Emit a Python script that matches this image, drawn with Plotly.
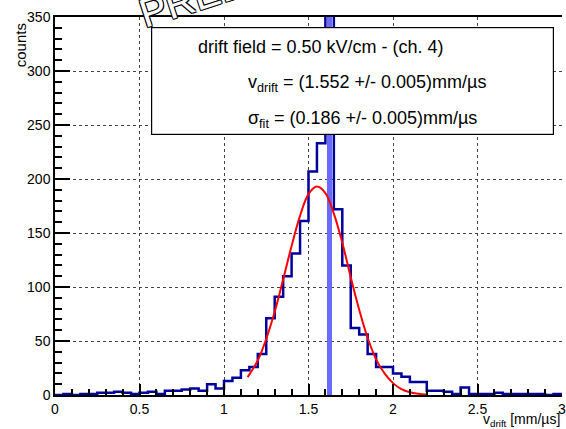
import plotly.graph_objects as go

# ---------------- data ----------------
x_min, x_max = 0.0, 3.0
counts = [0, 1, 0, 1, 1, 2, 2, 3, 2, 1,
          2, 3, 1, 4, 4, 5, 6, 4, 10, 6,
          13, 16, 23, 26, 38, 71, 91, 110, 131, 161,
          207, 233, 520, 172, 120, 62, 56, 38, 26, 26,
          20, 17, 12, 12, 4, 4, 3, 1, 7, 1,
          1, 1, 2, 1, 1, 1, 1, 1, 0, 1]

fit_x = [1.14, 1.20, 1.25, 1.30, 1.35, 1.40, 1.45, 1.50, 1.55, 1.60, 1.65,
         1.70, 1.75, 1.80, 1.85, 1.90, 1.95, 2.00, 2.05, 2.10, 2.15, 2.20]
fit_y = [16.6, 32, 52, 77, 107, 138, 166, 186, 193, 187, 168,
         141, 109, 79, 53, 33, 20, 11, 5.4, 2.5, 1.1, 0.4]

y_max = 350
box_lines = ["drift field = 0.50 kV/cm - (ch. 4)",
             "v<sub>drift</sub> = (1.552 +/- 0.005)mm/µs",
             "σ<sub>fit</sub> = (0.186 +/- 0.005)mm/µs"]
watermark = "PRELIMINARY"
x_title = "v<sub>drift</sub> [mm/µs]"
y_title = "counts"

# ---------------- build ----------------
nb = len(counts)
bw = (x_max - x_min) / nb
edges = [x_min + i * bw for i in range(nb + 1)]
centers = [x_min + (i + 0.5) * bw for i in range(nb)]
over = [i for i, c in enumerate(counts) if c > y_max]

FONT = "Liberation Sans, Arial, Helvetica, sans-serif"
W, H = 566, 429
L, R, T, B = 55, 0, 17, 34
pw, ph = W - L - R, H - T - B

def px_x(p):
    return (p - L) / pw

def px_y(p):
    return (H - B - p) / ph

fig = go.Figure()
fig.add_trace(go.Bar(x=[centers[i] for i in over], y=[counts[i] for i in over],
                     width=[bw * 0.55] * len(over), marker=dict(color="#6a6aff", line=dict(width=0)),
                     showlegend=False, hoverinfo="skip"))
fig.add_trace(go.Scatter(x=edges, y=counts + [counts[-1]], mode="lines",
                         line=dict(color="#00009a", width=2.5, shape="hv"),
                         showlegend=False))
fig.add_trace(go.Scatter(x=fit_x, y=fit_y, mode="lines",
                         line=dict(color="#ff0000", width=2, shape="spline"),
                         showlegend=False))

ann = []
ann.append(dict(text=watermark, x=px_x(132), y=px_y(38), xref="paper", yref="paper",
                xanchor="left", yanchor="bottom", showarrow=False, textangle=-18,
                font=dict(family=FONT, size=40, color="white",
                          shadow="-1px -1px 0 #000, 1px -1px 0 #000, -1px 1px 0 #000, 1px 1px 0 #000")))
ann.append(dict(text=" ", x=px_x(151.7), y=px_y(26.7), xref="paper", yref="paper",
                xanchor="left", yanchor="top", showarrow=False, width=401, height=106,
                bgcolor="white", bordercolor="black", borderwidth=1.2, borderpad=0))
ann.append(dict(text=box_lines[0], x=px_x(197), y=px_y(46.7), xref="paper", yref="paper",
                xanchor="left", yanchor="middle", showarrow=False,
                font=dict(family=FONT, size=18, color="black")))
ann.append(dict(text=box_lines[1], x=px_x(248), y=px_y(83), xref="paper", yref="paper",
                xanchor="left", yanchor="middle", showarrow=False,
                font=dict(family=FONT, size=18, color="black")))
ann.append(dict(text=box_lines[2], x=px_x(248), y=px_y(119.5), xref="paper", yref="paper",
                xanchor="left", yanchor="middle", showarrow=False,
                font=dict(family=FONT, size=18, color="black")))
ann.append(dict(text=y_title, x=px_x(20), y=px_y(21), xref="paper", yref="paper",
                xanchor="center", yanchor="top", showarrow=False, textangle=-90,
                font=dict(family=FONT, size=15, color="black")))
ann.append(dict(text=x_title, x=px_x(566), y=px_y(420), xref="paper", yref="paper",
                xanchor="right", yanchor="middle", showarrow=False,
                font=dict(family=FONT, size=14, color="black")))

fig.update_layout(
    width=W, height=H, margin=dict(l=L, r=R, t=T, b=B, pad=0),
    paper_bgcolor="white", plot_bgcolor="white",
    font=dict(family=FONT, size=14, color="black"),
    bargap=0, annotations=ann,
)
fig.update_xaxes(range=[x_min, x_max], dtick=0.5, tick0=0, showline=True, linecolor="black",
                 linewidth=1.5, mirror=True, ticks="inside", ticklen=11, tickwidth=1.5,
                 tickcolor="black", showgrid=True, gridcolor="#444", griddash="dot", gridwidth=1,
                 zeroline=False, ticklabeloverflow="allow",
                 minor=dict(dtick=0.1, ticks="inside", ticklen=6, tickwidth=1.5,
                            tickcolor="black", showgrid=False),
                 tickfont=dict(size=14, family=FONT, color="black"))
fig.update_yaxes(range=[0, y_max], dtick=50, tick0=0, showline=True, linecolor="black",
                 linewidth=1.5, mirror=False, ticks="inside", ticklen=15, tickwidth=1.5,
                 tickcolor="black", showgrid=True, gridcolor="#444", griddash="dot", gridwidth=1,
                 zeroline=False,
                 minor=dict(dtick=10, ticks="inside", ticklen=7, tickwidth=1.5,
                            tickcolor="black", showgrid=False),
                 tickfont=dict(size=14, family=FONT, color="black"))

fig.write_html("out.html")
